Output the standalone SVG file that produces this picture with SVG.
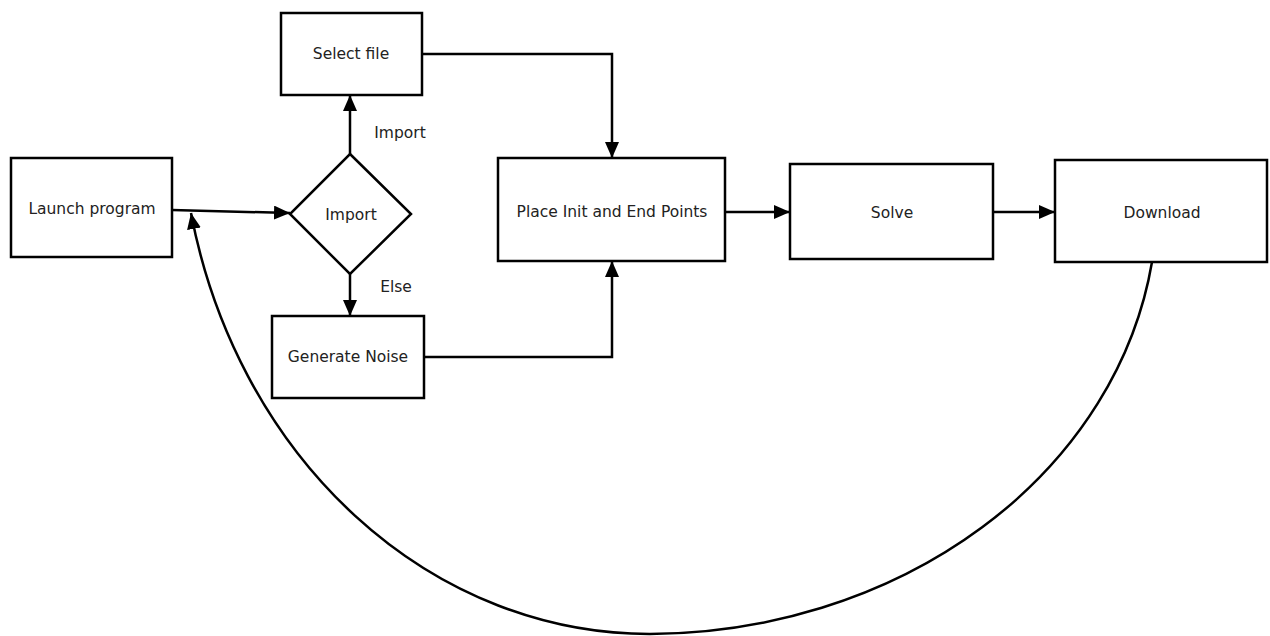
<svg xmlns="http://www.w3.org/2000/svg" width="1270" height="636" viewBox="0 0 1270 636">
<style>
.box{fill:#fff;stroke:#000;stroke-width:2.5}
.lbl{font-family:"DejaVu Sans",Verdana,sans-serif;font-size:15.5px;fill:#222;text-anchor:middle;dominant-baseline:central}
.edge{fill:none;stroke:#000;stroke-width:2.5;marker-end:url(#ah)}
</style>
<defs>
<marker id="ah" viewBox="0 0 16 14" refX="16" refY="7" markerWidth="16" markerHeight="14" markerUnits="userSpaceOnUse" orient="auto">
<path d="M0 0 L16 7 L0 14 Z" fill="#000"/>
</marker>
</defs>
<rect width="1270" height="636" fill="#fff"/>
<g id="connectors">
<path class="edge" d="M172 210 L290 213"/>
<path class="edge" d="M350 154 L350 95"/>
<path class="edge" d="M350 274 L350 316"/>
<path class="edge" d="M422 54 L612 54 L612 158"/>
<path class="edge" d="M424 357 L612 357 L612 261"/>
<path class="edge" d="M725 212 L790 212"/>
<path class="edge" d="M993 212 L1055 212"/>
<path class="edge" d="M1152 262 A510 434 0 0 1 650 634 A469 534 0 0 1 191 213"/>
<text class="lbl" x="400" y="133">Import</text>
<text class="lbl" x="396" y="287">Else</text>
</g>
<g id="launch"><rect class="box" x="11" y="158" width="161" height="99"/><text class="lbl" x="92" y="209">Launch program</text></g>
<g id="decision"><path class="box" d="M350 154 L411 214 L350 274 L290 214 Z"/><text class="lbl" x="351" y="215">Import</text></g>
<g id="select"><rect class="box" x="281" y="13" width="141" height="82"/><text class="lbl" x="351" y="54">Select file</text></g>
<g id="noise"><rect class="box" x="272" y="316" width="152" height="82"/><text class="lbl" x="348" y="357">Generate Noise</text></g>
<g id="place"><rect class="box" x="498" y="158" width="227" height="103"/><text class="lbl" x="612" y="212">Place Init and End Points</text></g>
<g id="solve"><rect class="box" x="790" y="164" width="203" height="95"/><text class="lbl" x="892" y="213">Solve</text></g>
<g id="download"><rect class="box" x="1055" y="160" width="212" height="102"/><text class="lbl" x="1162" y="213">Download</text></g>
</svg>
